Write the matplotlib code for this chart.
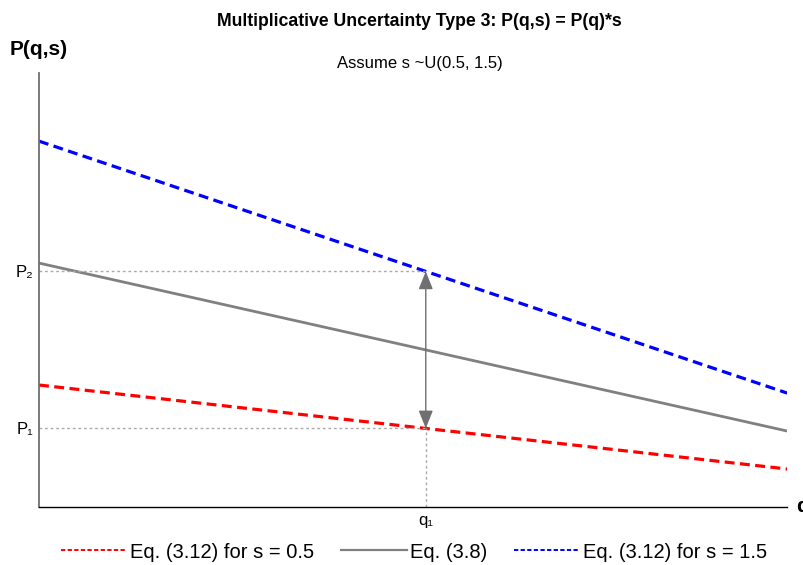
import matplotlib.pyplot as plt
from matplotlib.lines import Line2D

plt.rcParams['font.family'] = ['Liberation Sans', 'DejaVu Sans']

# Demand curve P(q) and the two scaled versions P(q)*s
q_vals = [0, 100]
p_base = [56.2, 17.5]
s_low, s_high = 0.5, 1.5
q1 = 51.7
legend_labels = ['Eq. (3.12) for s = 0.5', 'Eq. (3.8)', 'Eq. (3.12) for s = 1.5']

p_low = [p * s_low for p in p_base]
p_high = [p * s_high for p in p_base]
p_mid_q1 = p_base[0] + (p_base[1] - p_base[0]) * q1 / 100
P1 = p_mid_q1 * s_low
P2 = p_mid_q1 * s_high

fig = plt.figure(figsize=(8.04, 5.65), dpi=100)
ax = fig.add_axes([0.0485, 0.1027, 0.9305, 0.7681])

dash = (0, (3.1, 1.7))
ax.plot(q_vals, p_low, color='red', lw=2.3, ls=dash)
ax.plot(q_vals, p_base, color='#808080', lw=2.0)
ax.plot(q_vals, p_high, color='blue', lw=2.3, ls=dash)

# guide lines
ax.plot([0, q1], [P2, P2], color='#aaaaaa', lw=1, ls=(0, (2, 2)))
ax.plot([0, q1], [P1, P1], color='#aaaaaa', lw=1, ls=(0, (2, 2)))
ax.plot([q1, q1], [0, P1], color='#aaaaaa', lw=1, ls=(0, (2, 2)))
ax.annotate('', xy=(q1, P2), xytext=(q1, P1),
            arrowprops=dict(arrowstyle='<|-|>,head_length=0.55,head_width=0.22',
                            color='#707070', lw=1, mutation_scale=20,
                            shrinkA=0, shrinkB=0))

ax.set_xlim(0, 100)
ax.set_ylim(0, 100)
ax.set_xticks([q1])
ax.set_xticklabels(['q\u2081'], fontsize=12)
ax.set_yticks([P1, P2])
ax.set_yticklabels(['P\u2081', 'P\u2082'], fontsize=12)
ax.tick_params(length=0, pad=4)

for side in ['top', 'right']:
    ax.spines[side].set_visible(False)
ax.spines['left'].set_color('#707070')
ax.spines['left'].set_linewidth(1.3)
ax.spines['bottom'].set_color('black')
ax.spines['bottom'].set_linewidth(1.0)

fig.text(0.522, 0.962, 'Multiplicative Uncertainty Type 3: P(q,s) = P(q)*s',
         ha='center', va='center', fontsize=12.7, fontweight='bold')
fig.text(0.522, 0.887, 'Assume s ~U(0.5, 1.5)', ha='center', va='center',
         fontsize=12)
fig.text(0.012, 0.912, 'P(q,s)', ha='left', va='center', fontsize=15,
         fontweight='bold')
fig.text(0.990, 0.103, 'q', ha='left', va='center', fontsize=15,
         fontweight='bold')

handles = [
    Line2D([], [], color='red', lw=1.4, ls=(0, (2.2, 1.2))),
    Line2D([], [], color='#808080', lw=1.6),
    Line2D([], [], color='blue', lw=1.4, ls=(0, (2.2, 1.2))),
]
fig.legend(handles, legend_labels, loc='center', bbox_to_anchor=(0.515, 0.023),
           ncol=3, frameon=False, fontsize=14.5, handlelength=3.3,
           handletextpad=0.15, columnspacing=1.3)

fig.savefig('out.png', dpi=100)
